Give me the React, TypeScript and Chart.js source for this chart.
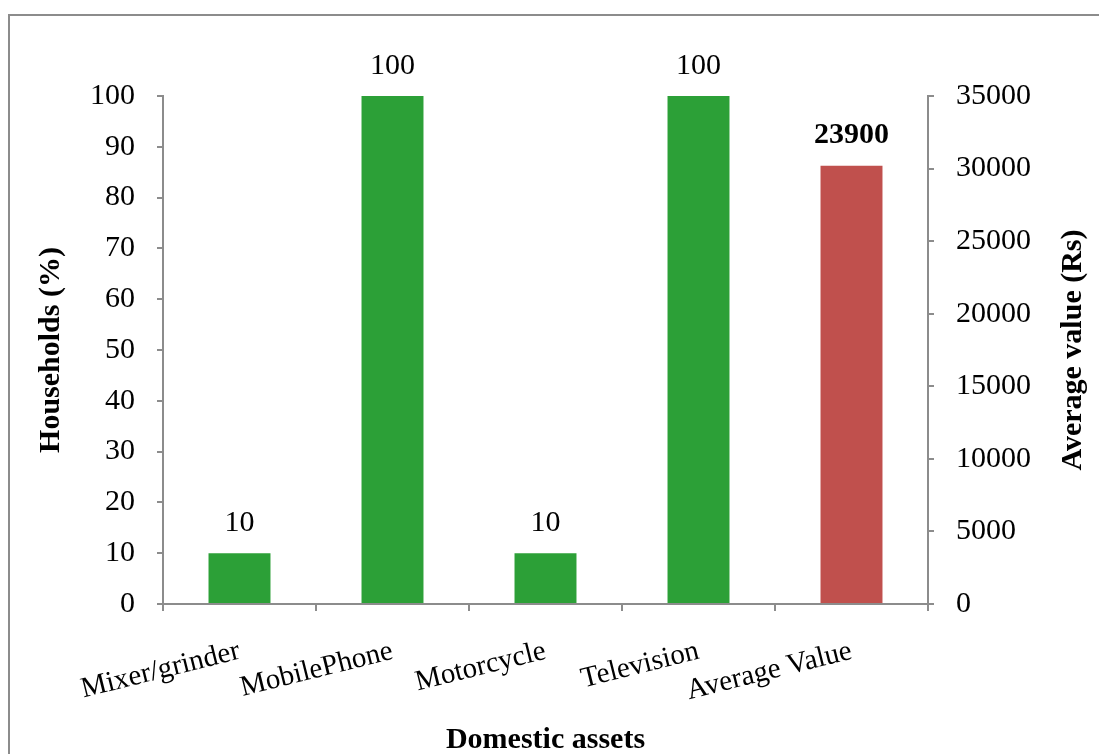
import React, { useEffect, useRef } from "react";
import { Chart, registerables } from "chart.js";

Chart.register(...registerables);

const categories = ["Mixer/grinder", "MobilePhone", "Motorcycle", "Television", "Average Value"];
const householdPct: (number | null)[] = [10, 100, 10, 100, null];
const averageValue: (number | null)[] = [null, null, null, null, 30200];
const averageValueText: string[] = ["", "", "", "", "23900"];
const leftTitle = "Households (%)";
const rightTitle = "Average value (Rs)";
const xTitle = "Domestic assets";

const SERIF = "'Times New Roman', 'Liberation Serif', serif";
const AXIS = "#8c8c8c";

const decorPlugin = {
  id: "decor",
  beforeDraw(chart: any) {
    const ctx = chart.ctx;
    ctx.save();
    ctx.strokeStyle = AXIS;
    ctx.lineWidth = 2;
    ctx.beginPath();
    ctx.moveTo(9, 760);
    ctx.lineTo(9, 15);
    ctx.lineTo(1110, 15);
    ctx.stroke();
    ctx.restore();
  },
  afterDraw(chart: any) {
    const ctx = chart.ctx;
    const area = chart.chartArea;
    const cy = (area.top + area.bottom) / 2;
    ctx.save();
    ctx.fillStyle = "#000";
    ctx.font = `bold 30px ${SERIF}`;
    ctx.textAlign = "center";
    ctx.textBaseline = "middle";
    ctx.save();
    ctx.translate(51, cy);
    ctx.rotate(-Math.PI / 2);
    ctx.fillText(leftTitle, 0, 0);
    ctx.restore();
    ctx.save();
    ctx.translate(1073, cy);
    ctx.rotate(-Math.PI / 2);
    ctx.fillText(rightTitle, 0, 0);
    ctx.restore();
    ctx.textBaseline = "alphabetic";
    ctx.fillText(xTitle, (area.left + area.right) / 2, 748);
    ctx.restore();
  },
  afterDatasetsDraw(chart: any) {
    const ctx = chart.ctx;
    ctx.save();
    ctx.fillStyle = "#000";
    ctx.textAlign = "center";
    ctx.textBaseline = "middle";
    chart.data.datasets.forEach((ds: any, di: number) => {
      const meta = chart.getDatasetMeta(di);
      meta.data.forEach((el: any, i: number) => {
        const v = ds.data[i];
        if (v === null || v === undefined) return;
        let text = String(v);
        if (di === 1) {
          ctx.font = `bold 30px ${SERIF}`;
          text = averageValueText[i];
        } else {
          ctx.font = `30px ${SERIF}`;
        }
        ctx.fillText(text, el.x, el.y - 30);
      });
    });
    ctx.restore();
  },
};

export default function App() {
  const ref = useRef<HTMLCanvasElement>(null);
  useEffect(() => {
    if (!ref.current) return;
    const chart = new Chart(ref.current, {
      type: "bar",
      data: {
        labels: categories,
        datasets: [
          {
            label: "Households (%)",
            data: householdPct,
            backgroundColor: "#2ca037",
            yAxisID: "y",
            grouped: false,
            categoryPercentage: 1,
            barPercentage: 0.405,
          } as any,
          {
            label: "Average value (Rs)",
            data: averageValue,
            backgroundColor: "#c0504d",
            yAxisID: "y1",
            grouped: false,
            categoryPercentage: 1,
            barPercentage: 0.405,
          } as any,
        ],
      },
      options: {
        animation: false,
        responsive: false,
        layout: { padding: { top: 96, left: 0, right: 0, bottom: 0 } },
        plugins: {
          legend: { display: false },
          tooltip: { enabled: false },
          title: { display: false },
        },
        scales: {
          x: {
            grid: {
              display: true,
              offset: true,
              drawOnChartArea: false,
              drawTicks: true,
              tickLength: 7,
              color: AXIS,
              lineWidth: 2,
            },
            border: { display: true, color: AXIS, width: 2 },
            ticks: {
              minRotation: 14,
              maxRotation: 14,
              autoSkip: false,
              padding: 23,
              color: "#000",
              font: { family: SERIF, size: 29 },
            },
            afterFit(scale: any) {
              scale.height = 150;
            },
          },
          y: {
            position: "left",
            min: 0,
            max: 100,
            ticks: {
              stepSize: 10,
              padding: 22,
              color: "#000",
              font: { family: SERIF, size: 30 },
            },
            grid: {
              drawOnChartArea: false,
              drawTicks: true,
              tickLength: 6,
              color: AXIS,
              lineWidth: 2,
            },
            border: { display: true, color: AXIS, width: 2 },
            afterFit(scale: any) {
              scale.width = 163;
            },
          },
          y1: {
            position: "right",
            min: 0,
            max: 35000,
            ticks: {
              stepSize: 5000,
              padding: 22,
              color: "#000",
              font: { family: SERIF, size: 30 },
              callback: (v: any) => String(v),
            },
            grid: {
              drawOnChartArea: false,
              drawTicks: true,
              tickLength: 6,
              color: AXIS,
              lineWidth: 2,
            },
            border: { display: true, color: AXIS, width: 2 },
            afterFit(scale: any) {
              scale.width = 171;
            },
          },
        },
      } as any,
      plugins: [decorPlugin],
    });
    return () => chart.destroy();
  }, []);
  return (
    <div style={{ position: "absolute", left: 0, top: 0, width: 1099, height: 754, background: "#fff" }}>
      <canvas ref={ref} width={1099} height={754} style={{ display: "block" }} />
    </div>
  );
}
